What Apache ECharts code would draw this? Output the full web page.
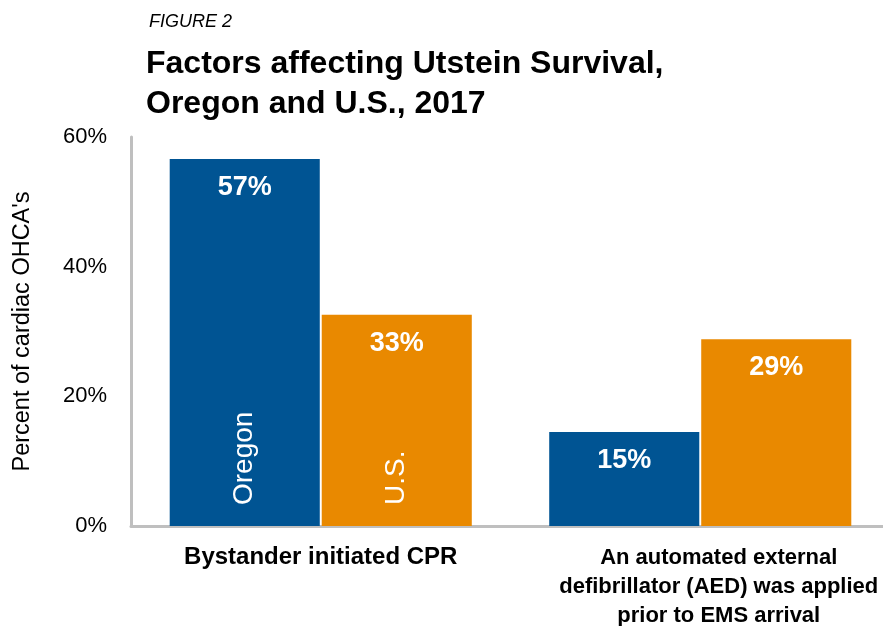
<!DOCTYPE html>
<html>
<head>
<meta charset="utf-8">
<script src="https://cdn.jsdelivr.net/npm/echarts@6/dist/echarts.min.js"></script>
<style>
  html, body { margin: 0; padding: 0; background: #fff; }
  #main { width: 883px; height: 626px; }
</style>
</head>
<body>
<div id="main"></div>
<script>
// 数据
const categories = ['Bystander initiated CPR', 'An automated external\ndefibrillator (AED) was applied\nprior to EMS arrival']
const seriesNames = ['Oregon', 'U.S.']
const oregonValues = [56.6, 14.5]
const usValues = [32.6, 28.8]
const yTicks = [0, 20, 40, 60]

const blue = '#005493'
const orange = '#E98900'
const font = '"Liberation Sans", Arial, sans-serif'

const chart = echarts.init(document.getElementById('main'))

// 柱子上的百分比
const valueLabel = {
  show: true,
  position: 'insideTop',
  distance: 15,
  color: '#fff',
  fontFamily: font,
  fontWeight: 'bold',
  fontSize: 27,
  formatter: (p) => Math.round(p.value) + '%'
}

// 竖排的系列名，只在第一组显示
const nameLabel = {
  show: true,
  position: 'insideBottom',
  distance: 21,
  rotate: 90,
  align: 'left',
  verticalAlign: 'middle',
  color: '#fff',
  fontFamily: font,
  fontSize: 28,
  formatter: (p) => (p.dataIndex === 0 ? p.seriesName : '')
}

const barCommon = {
  type: 'bar',
  barCategoryGap: '20.4%',
  barGap: '1.3%'
}

const options = {
  animation: false,
  backgroundColor: '#fff',
  title: [
    {
      text: 'FIGURE 2',
      left: 144,
      top: 8,
      textStyle: { fontFamily: font, fontStyle: 'italic', fontWeight: 'normal', fontSize: 18, color: '#000' }
    },
    {
      text: 'Factors affecting Utstein Survival,\nOregon and U.S., 2017',
      left: 141,
      top: 39,
      textStyle: { fontFamily: font, fontWeight: 'bold', fontSize: 32, lineHeight: 40, color: '#000' }
    }
  ],
  grid: {
    left: 131,
    right: -7,
    top: 137,
    bottom: 100,
    containLabel: false,
    outerBoundsMode: 'none'
  },
  xAxis: [
    {
      type: 'category',
      data: categories,
      axisLine: { show: true, lineStyle: { color: '#bfbfbf', width: 3 } },
      axisTick: { show: false },
      axisLabel: {
        interval: 0,
        margin: 17,
        color: '#000',
        fontFamily: font,
        fontWeight: 'bold',
        fontSize: 22,
        lineHeight: 29,
        formatter: (v, i) => {
          const lines = v.split('\n')
          const key = i === 0 ? 'a' : 'b'
          return lines.map((l) => '{' + key + '|' + l + '}').join('\n')
        },
        rich: {
          a: { fontFamily: font, fontWeight: 'bold', fontSize: 24, lineHeight: 29, color: '#000' },
          b: { fontFamily: font, fontWeight: 'bold', fontSize: 22, lineHeight: 29, color: '#000', padding: [0, 0, 0, 37] }
        }
      }
    },
    {
      type: 'category',
      data: categories,
      show: false
    }
  ],
  yAxis: {
    type: 'value',
    min: yTicks[0],
    max: yTicks[yTicks.length - 1],
    interval: 20,
    name: "Percent of cardiac OHCA's",
    nameLocation: 'middle',
    nameGap: 96,
    nameTextStyle: { fontFamily: font, fontSize: 23.5, color: '#000' },
    axisLine: { show: true, lineStyle: { color: '#bfbfbf', width: 3 } },
    axisTick: { show: false },
    splitLine: { show: false },
    axisLabel: {
      margin: 24,
      color: '#000',
      fontFamily: font,
      fontSize: 22,
      formatter: '{value}%'
    }
  },
  series: [
    { ...barCommon, name: seriesNames[0], data: oregonValues, itemStyle: { color: blue }, label: valueLabel },
    { ...barCommon, name: seriesNames[1], data: usValues, itemStyle: { color: orange }, label: valueLabel },
    // 透明柱，只用来放竖排文字
    { ...barCommon, name: seriesNames[0], xAxisIndex: 1, data: oregonValues, silent: true, z: 5, itemStyle: { color: 'transparent' }, label: nameLabel },
    { ...barCommon, name: seriesNames[1], xAxisIndex: 1, data: usValues, silent: true, z: 5, itemStyle: { color: 'transparent' }, label: nameLabel }
  ]
}

chart.setOption(options)
</script>
</body>
</html>
